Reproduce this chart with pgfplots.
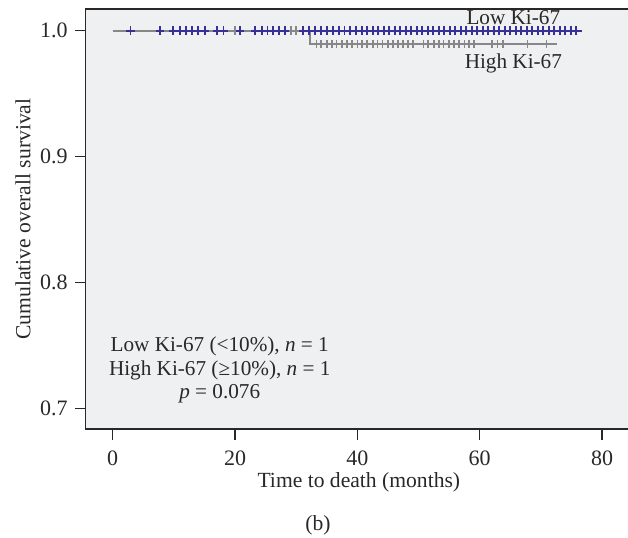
\documentclass[border=0pt]{standalone}
\usepackage{fontspec}
\setmainfont{Liberation Serif}
\usepackage{pgfplots}
\pgfplotsset{compat=1.18}
\definecolor{kmblue}{RGB}{55,48,150}
\definecolor{kmgray}{RGB}{135,135,135}
\definecolor{bgc}{RGB}{239,240,242}
\definecolor{axc}{RGB}{40,40,40}
\begin{document}
\fontsize{10.5}{12}\selectfont
\begin{tikzpicture}
\begin{axis}[
  name=ax,
  scale only axis,
  width=273.15pt, height=209.85pt,
  xmin=-4.415, xmax=84.9,
  ymin=0.6834, ymax=1.0170,
  axis background/.style={fill=bgc},
  axis line style={draw=axc, line width=0.8pt},
  xtick={0,20,40,60,80},
  ytick={0.7,0.8,0.9,1.0},
  tick align=outside,
  major tick length=5.35pt,
  tick style={draw=axc, line width=0.6pt},
  xtick pos=bottom, ytick pos=left,
  /pgf/number format/assume math mode=true,
  yticklabel style={/pgf/number format/fixed, /pgf/number format/fixed zerofill, /pgf/number format/precision=1},
  every tick label/.append style={font=\fontsize{11}{12}\selectfont, text=axc},
  xticklabel style={yshift=-2pt},
  xlabel={Time to death (months)},
  ylabel={Cumulative overall survival},
  xlabel style={at={(axis description cs:0.5,0)}, anchor=base, yshift=-29.5pt, font=\fontsize{10.8}{12}\selectfont, text=axc},
  ylabel style={at={([xshift=-31.35pt]axis description cs:0,0.5)}, anchor=center, font=\fontsize{10.8}{12}\selectfont, text=axc},
  clip=false,
]
\addplot[kmblue, line width=1pt, no marks] coordinates {(0,1) (76.7,1)};
\addplot[kmgray, line width=0.9pt, no marks] coordinates {(0,1) (32.3,1) (32.3,0.9894) (72.6,0.9894)};
\addplot[only marks, mark=+, mark size=2.1pt, kmgray, mark options={line width=0.85pt}] coordinates {
(20.0,1) (29.1,1) (30.0,1)
(33.3,0.9894) (34.1,0.9894) (35.0,0.9894) (35.8,0.9894) (36.6,0.9894) (37.5,0.9894) (38.3,0.9894) (39.1,0.9894) (40.0,0.9894) (40.8,0.9894)
(41.6,0.9894) (42.5,0.9894) (43.3,0.9894) (44.1,0.9894) (45.0,0.9894) (45.8,0.9894) (46.6,0.9894) (47.5,0.9894) (48.3,0.9894) (49.1,0.9894)
(50.8,0.9894) (51.6,0.9894) (52.5,0.9894) (53.3,0.9894) (54.1,0.9894) (55.0,0.9894) (55.8,0.9894) (56.6,0.9894) (57.5,0.9894) (58.3,0.9894) (59.1,0.9894)
(62.0,0.9894) (62.9,0.9894) (63.8,0.9894) (67.8,0.9894) (70.9,0.9894)
};
\addplot[only marks, mark=+, mark size=2.1pt, kmblue, mark options={line width=0.9pt}] coordinates {
(2.9,1) (7.7,1) (9.9,1) (11,1) (12,1) (13,1) (14,1) (15.1,1) (17.1,1) (18.1,1) (20.8,1) (23.3,1) (24.4,1) (25.3,1) (26.2,1) (27.2,1) (28.2,1)
(31.1,1) (32.1,1) (33.1,1) (34.1,1) (35,1) (36,1) (37,1) (37.9,1) (38.8,1) (39.8,1) (40.7,1) (41.6,1) (42.5,1) (43.4,1) (44.3,1) (45.2,1)
(46.1,1) (47,1) (47.9,1) (48.8,1) (49.7,1) (50.6,1) (51.5,1) (52.4,1) (53.3,1) (54.2,1) (55.1,1) (56,1) (56.9,1) (57.8,1) (58.7,1) (59.6,1)
(60.5,1) (61.4,1) (62.3,1) (63.2,1) (64.1,1) (65,1) (65.9,1) (66.8,1) (67.7,1) (68.6,1) (69.5,1) (70.4,1) (71.3,1) (72.2,1) (73.1,1) (74,1)
(74.9,1) (75.8,1)
};
\node[text=axc, font=\fontsize{10.6}{12}\selectfont] at (axis cs:65.5,1.0105) {Low Ki-67};
\node[text=axc, font=\fontsize{10.6}{12}\selectfont] at (axis cs:65.5,0.9739) {High Ki-67};
\node[text=axc, align=center, font=\fontsize{10.6}{11.75}\selectfont] at (axis cs:17.5,0.7303) {Low Ki-67 (<10\%), \textit{n} = 1\\High Ki-67 (≥10\%), \textit{n} = 1\\\textit{p} = 0.076};
\coordinate (bl) at (rel axis cs:0,0);
\coordinate (tl) at (rel axis cs:0,1);
\end{axis}
\node[anchor=base, text=axc, font=\fontsize{10.8}{12}\selectfont] at ([xshift=116.15pt, yshift=-51pt]bl) {(b)};
\pgfresetboundingbox
\path[use as bounding box] ([xshift=-42.85pt, yshift=-54.5pt]bl) rectangle ([xshift=271.15pt, yshift=4.65pt]tl);
\end{tikzpicture}
\end{document}
